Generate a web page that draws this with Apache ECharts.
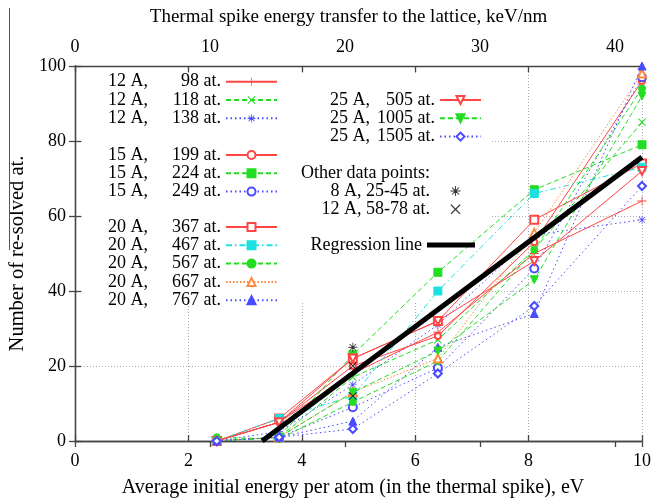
<!DOCTYPE html>
<html><head><meta charset="utf-8">
<script src="https://cdn.jsdelivr.net/npm/echarts@6/dist/echarts.min.js"></script>
<style>html,body{margin:0;padding:0;background:#fff}#c{width:656px;height:498px}</style>
</head><body><div id="c"></div>
<script>
// ---- data ----
const energy = [2.5, 3.6, 4.9, 6.4, 8.1, 10.0];          // eV (bottom axis)
const bottomTicks = [0, 2, 4, 6, 8, 10];
const topTicks = [0, 10, 20, 30, 40];                     // keV/nm (top axis)
const yTicks = [0, 20, 40, 60, 80, 100];

const s12_98   = [0, 5, 18, 29, 50, 64];
const s12_118  = [0, 1, 17, 27, 51, 85];
const s12_138  = [0, 2.5, 15, 31, 55, 59];
const s15_199  = [0, 5, 20, 28, 53, 96];
const s15_224  = [0, 1, 23, 45, 67, 79];
const s15_249  = [0, 1, 9, 19.5, 46, 97];
const s20_367  = [0, 6, 22, 32, 59, 74];
const s20_467  = [0, 6, 12, 40, 66, 73];
const s20_567  = [1, 0.5, 10.4, 21.3, 51, 94];
const s20_667  = [0, 1, 13, 22, 55.5, 98];
const s20_767  = [0, 1, 5.3, 25, 34, 100];
const s25_505  = [0, 5, 22, 32, 48, 72];
const s25_1005 = [0, 1, 13, 24, 43, 92];
const s25_1505 = [0, 1, 3.2, 18, 36, 68];

const other8X  = [4.9];       const other8Y  = [25];
const other12X = [4.9, 4.9];  const other12Y = [20, 12];
const regX = [3.3, 10.0];     const regY = [0, 75.7];

// ---- styles ----
const FONT = 'Liberation Serif';
const RED = '#ff4545', GREEN = '#22dd22', BLUE = '#4a4aff', CYAN = '#1fe0e0', ORANGE = '#ff8a3d';
const DASH = [5, 3], DOT = [1.5, 3], DASHDOT = [6, 3, 1.5, 3], FINEDOT = [1.5, 2];
const PLUS = 'path://M-0.9,-10H0.9V-0.9H10V0.9H0.9V10H-0.9V0.9H-10V-0.9H-0.9Z';
const CROSS = 'path://M-7.7,-6.4L-6.4,-7.7L0,-1.3L6.4,-7.7L7.7,-6.4L1.3,0L7.7,6.4L6.4,7.7L0,1.3L-6.4,7.7L-7.7,6.4L-1.3,0Z';
const STAR = 'path://M-0.9,-10H0.9V-0.9H10V0.9H0.9V10H-0.9V0.9H-10V-0.9H-0.9Z M-7.7,-6.4L-6.4,-7.7L0,-1.3L6.4,-7.7L7.7,-6.4L1.3,0L7.7,6.4L6.4,7.7L0,1.3L-6.4,7.7L-7.7,6.4L-1.3,0Z';

function mk(name, vals, color, dash, symbol, size, rotate, path) {
  return {
    type: 'line', name, data: energy.map((x, i) => [x, vals[i]]),
    symbol, symbolSize: size, symbolRotate: rotate || 0,
    lineStyle: { color, width: 1, type: dash },
    itemStyle: { color, borderColor: color, borderWidth: path ? 0 : 1 },
    z: 2, animation: false, emphasis: { disabled: true }
  };
}

const series = [
  mk('12 A, 98 at.',   s12_98,   RED,    'solid', PLUS, 9, 0, true),
  mk('12 A, 118 at.',  s12_118,  GREEN,  DASH,    CROSS, 8, 0, true),
  mk('12 A, 138 at.',  s12_138,  BLUE,   DOT,     STAR, 8, 0, true),
  mk('15 A, 199 at.',  s15_199,  RED,    'solid', 'emptyCircle', 6),
  mk('15 A, 224 at.',  s15_224,  GREEN,  DASH,    'rect', 8),
  mk('15 A, 249 at.',  s15_249,  BLUE,   DOT,     'emptyCircle', 8),
  mk('20 A, 367 at.',  s20_367,  RED,    'solid', 'emptyRect', 8),
  mk('20 A, 467 at.',  s20_467,  CYAN,   DASHDOT, 'rect', 8),
  mk('20 A, 567 at.',  s20_567,  GREEN,  DASH,    'circle', 7),
  mk('20 A, 667 at.',  s20_667,  ORANGE, FINEDOT, 'emptyTriangle', 8),
  mk('20 A, 767 at.',  s20_767,  BLUE,   DOT,     'triangle', 8),
  mk('25 A, 505 at.',  s25_505,  RED,    'solid', 'emptyTriangle', 8, 180),
  mk('25 A, 1005 at.', s25_1005, GREEN,  DASH,    'triangle', 8, 180),
  mk('25 A, 1505 at.', s25_1505, BLUE,   DOT,     'emptyDiamond', 8),
  { type: 'scatter', name: '8 A, 25-45 at.', data: other8X.map((x, i) => [x, other8Y[i]]),
    symbol: STAR, symbolSize: 9, itemStyle: { color: '#000' }, z: 3, animation: false },
  { type: 'scatter', name: '12 A, 58-78 at.', data: other12X.map((x, i) => [x, other12Y[i]]),
    symbol: CROSS, symbolSize: 8, itemStyle: { color: '#000' }, z: 3, animation: false },
  { type: 'line', name: 'Regression line', data: regX.map((x, i) => [x, regY[i]]),
    symbol: 'none', lineStyle: { color: '#000', width: 5 }, itemStyle: { color: '#000' }, z: 4, animation: false }
];

const txt = { fontFamily: FONT, fontSize: 18, color: '#000', lineHeight: 18 };
function legendBlock(names, left, top, aW, bW, itemWidth, itemHeight) {
  return {
    data: names, left, top, orient: 'vertical', align: 'right',
    itemWidth, itemHeight: itemHeight || 10, itemGap: 0.3, padding: 0, selectedMode: false,
    textStyle: Object.assign({}, txt, { rich: {
      a: Object.assign({}, txt, { width: aW, align: 'left' }),
      b: Object.assign({}, txt, { width: bW, align: 'right' }),
      c: Object.assign({}, txt, { width: aW + bW, align: 'right' })
    } }),
    formatter: n => {
      const i = n.indexOf(',');
      if (aW === 0 || i < 0) return '{c|' + n + '}';
      return '{a|' + n.slice(0, i + 1) + '}{b|' + n.slice(i + 1).trim() + '}';
    }
  };
}

const axisLineStyle = { color: '#444', width: 1.3 };
const grid = { left: 75, right: 14, top: 66, bottom: 57, containLabel: false, outerBoundsMode: 'none' };
const option = {
  backgroundColor: '#fff',
  animation: false,
  grid,
  xAxis: [
    { type: 'value', position: 'bottom', min: bottomTicks[0], max: bottomTicks[bottomTicks.length - 1], interval: 2,
      name: 'Average initial energy per atom (in the thermal spike), eV', nameLocation: 'middle', nameGap: 37,
      nameTextStyle: { fontFamily: FONT, fontSize: 20, color: '#000', padding: [0, 11, 0, 0] },
      axisLine: { lineStyle: axisLineStyle }, axisTick: { inside: true, length: 6, lineStyle: axisLineStyle },
      axisLabel: { fontFamily: FONT, fontSize: 18, color: '#000', margin: 11 },
      splitLine: { show: true, lineStyle: { color: '#aaa', width: 1, type: [1, 2] } } },
    { type: 'value', position: 'top', min: 0, max: 42, interval: 10,
      name: 'Thermal spike energy transfer to the lattice, keV/nm', nameLocation: 'middle', nameGap: 39,
      nameTextStyle: { fontFamily: FONT, fontSize: 19, color: '#000', padding: [0, 20, 0, 0] },
      axisLine: { show: true, lineStyle: axisLineStyle }, axisTick: { inside: true, length: 6, lineStyle: axisLineStyle },
      axisLabel: { fontFamily: FONT, fontSize: 18, color: '#000', margin: 10,
        formatter: v => (topTicks.indexOf(v) >= 0 ? String(v) : '') },
      splitLine: { show: false } },
    { type: 'value', position: 'top', min: 0, max: 10, interval: 2,
      axisLine: { show: true, lineStyle: axisLineStyle }, axisTick: { inside: true, length: 6, lineStyle: axisLineStyle },
      axisLabel: { show: false }, splitLine: { show: false } }
  ],
  yAxis: [
    { type: 'value', position: 'left', min: yTicks[0], max: yTicks[yTicks.length - 1], interval: 20,
      name: 'Number of re-solved at.', nameLocation: 'middle', nameGap: 46, nameRotate: 90,
      nameTextStyle: { fontFamily: FONT, fontSize: 20.5, color: '#000' },
      axisLine: { show: true, lineStyle: axisLineStyle }, axisTick: { show: true, inside: true, length: 6, lineStyle: axisLineStyle },
      axisLabel: { fontFamily: FONT, fontSize: 18, color: '#000', margin: 9 },
      splitLine: { show: true, lineStyle: { color: '#aaa', width: 1, type: [1, 2] } } },
    { type: 'value', position: 'right', min: 0, max: 100, interval: 20,
      axisLine: { show: true, lineStyle: axisLineStyle }, axisTick: { show: true, inside: true, length: 6, lineStyle: axisLineStyle },
      axisLabel: { show: false }, splitLine: { show: false } }
  ],
  legend: [
    legendBlock(['12 A, 98 at.', '12 A, 118 at.', '12 A, 138 at.'], 108, 72.7, 42, 71, 51),
    legendBlock(['15 A, 199 at.', '15 A, 224 at.', '15 A, 249 at.'], 108, 146, 42, 71, 51),
    legendBlock(['20 A, 367 at.', '20 A, 467 at.', '20 A, 567 at.', '20 A, 667 at.', '20 A, 767 at.'], 108, 218, 42, 71, 51),
    legendBlock(['25 A, 505 at.', '25 A, 1005 at.', '25 A, 1505 at.'], 330, 91, 42, 63, 41),
    legendBlock(['8 A, 25-45 at.', '12 A, 58-78 at.'], 320, 182, 0, 110, 41),
    legendBlock([{ name: 'Regression line', icon: 'rect' }], 310, 236, 0, 112, 48, 5)
  ],
  graphic: [
    { type: 'rect', z: 1, shape: { x: 82, y: 73, width: 408, height: 230 }, style: { fill: '#fff' } },
    { type: 'text', z: 5, x: 430, y: 173,
      style: { text: 'Other data points:', font: '18px "Liberation Serif"', fill: '#000', align: 'right', verticalAlign: 'middle' } },
    { type: 'line', z: 5, shape: { x1: 9.5, y1: 8, x2: 9.5, y2: 250 }, style: { stroke: '#555', lineWidth: 1 } }
  ],
  series
};
const chart = echarts.init(document.getElementById('c'), null, { renderer: 'canvas' });
chart.setOption(option);
</script></body></html>
